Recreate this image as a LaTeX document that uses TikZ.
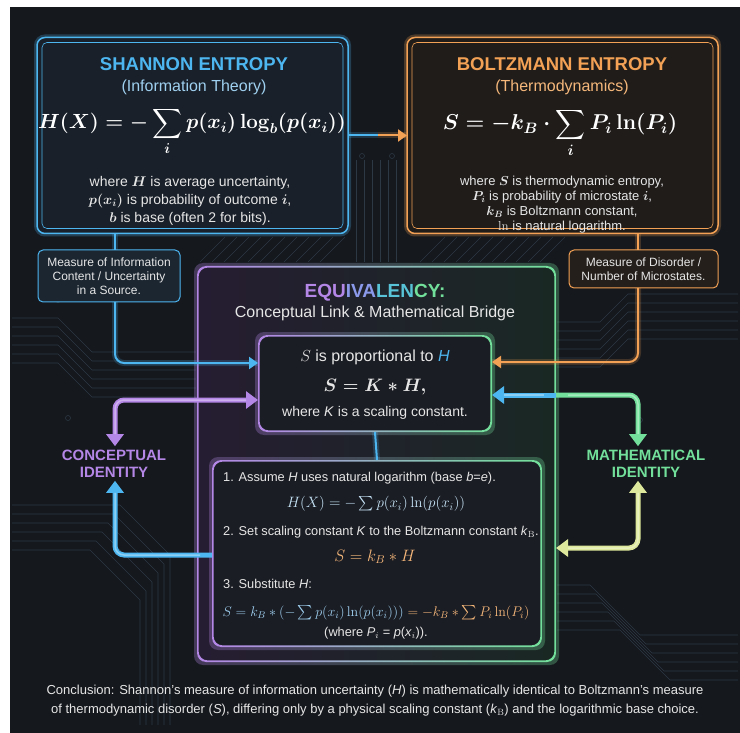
\RequirePackage{fix-cm}
\documentclass[tikz,border=0pt]{standalone}
\usepackage{amsmath}
\usepackage[no-math]{fontspec}
\setmainfont{Liberation Sans}
\usetikzlibrary{arrows.meta, positioning, calc}
\definecolor{cbg}{HTML}{15181D}
\definecolor{cblue}{HTML}{4DB6F0}
\definecolor{clblue}{HTML}{9FD0F0}
\definecolor{corange}{HTML}{F2A155}
\definecolor{clorange}{HTML}{F5B77A}
\definecolor{cpurple}{HTML}{B486E6}
\definecolor{cgreen}{HTML}{72E09A}
\definecolor{cyellow}{HTML}{DDE89C}
\definecolor{ctext}{HTML}{E6E6E6}
\definecolor{ctrace}{HTML}{2C3844}
\definecolor{cshan}{HTML}{192029}
\definecolor{cboltz}{HTML}{1F1C1A}
\definecolor{ctagb}{HTML}{1B2631}
\definecolor{ctago}{HTML}{241F1B}
\definecolor{ceqL}{HTML}{251D31}
\definecolor{ceqR}{HTML}{1A2824}
\definecolor{cinner}{HTML}{1B1D24}
\newcommand{\fs}[2]{\fontsize{#1}{#2}\selectfont}
\tikzset{neon/.style={draw=#1, line width=1.5pt, rounded corners=8pt, outer sep=0pt,
  preaction={draw=#1, line width=6pt, draw opacity=.25}}}
\tikzset{lining/.style={draw=#1, line width=.6pt, rounded corners=5pt}}
\tikzset{tagbox/.style={draw=#1, line width=1pt, rounded corners=5pt, outer sep=0pt,
  align=center, text=ctext, font=\fs{12}{14}}}
\tikzset{title/.style={text=#1, font=\bfseries\fs{18.5}{22}}}
\tikzset{txt/.style={text=ctext, align=center, inner sep=1pt}}
\tikzset{wire/.style={draw=#1, line width=2pt, rounded corners=9pt,
  preaction={draw=#1, line width=6pt, draw opacity=.2, arrows=-}}}
\tikzset{wirehead/.style={-{Triangle[length=9pt,width=12pt]}}}
\tikzset{fat/.style={draw=#1, line width=5pt, rounded corners=9pt,
  postaction={draw=white, draw opacity=.35, line width=1.5pt, arrows=-, shorten <=12pt, shorten >=12pt}}}
\tikzset{ident/.style={text=#1, font=\bfseries\fs{15}{17}, align=center}}
\tikzset{trace/.style={draw=ctrace, line width=.6pt}}
\newcommand{\gradring}[1]{%
  \shade[left color=cpurple, middle color=cblue, right color=cgreen, even odd rule,
    rounded corners=9pt, opacity=.3]
    ([shift={(-3pt,3pt)}]#1.north west) rectangle ([shift={(3pt,-3pt)}]#1.south east)
    (#1.north west) rectangle (#1.south east);
  \shade[left color=cpurple, middle color=cblue, right color=cgreen, even odd rule,
    rounded corners=9pt]
    (#1.north west) rectangle (#1.south east)
    ([shift={(1.6pt,-1.6pt)}]#1.north west) rectangle ([shift={(-1.6pt,1.6pt)}]#1.south east);}

\begin{document}
\begin{tikzpicture}[x=1pt, y=-1pt, >={Triangle[length=12pt,width=17pt]}]
  \useasboundingbox (0,0) rectangle (740,733);
  \fill[white] (0,0) rectangle (740,733);
  \fill[cbg] (10,7) rectangle (740,733);

  % circuit traces
  \foreach \k in {0,...,5}
    \draw[trace] (12,318+9*\k) -- (58,318+9*\k) -- (92,352+9*\k) -- (196,352+9*\k);
  \foreach \k in {0,...,5}
    \draw[trace] (12,505+9*\k) -- (120-6*\k,505+9*\k) -- (170-6*\k,555+9*\k) -- (170-6*\k,725);
  \foreach \k in {0,...,5}
    \draw[trace] (557,322+9*\k) -- (600,322+9*\k) -- (628,294+9*\k) -- (738,294+9*\k);
  \foreach \k in {0,...,5}
    \draw[trace] (557,585+9*\k) -- (590+6*\k,585+9*\k) -- (640+6*\k,635+9*\k) -- (738,635+9*\k);
  \foreach \x in {356,364,...,396}
    \draw[trace] (\x,160) -- (\x,262);
  \foreach \x in {200,212,...,330}
    \draw[trace] (\x,262) -- (\x+25,237);
  \foreach \x in {420,432,...,550}
    \draw[trace] (\x,262) -- (\x+25,237);
  \foreach \p in {(58,300),(68,418),(362,156),(392,156),(602,278),(640,420)}
    \draw[trace] \p circle (2.5pt);

  % Shannon
  \node[neon=cblue, fill=cshan, minimum width=311pt, minimum height=196pt] (shannon) at (192.5,135.5) {};
  \draw[lining=cblue] ([shift={(5pt,-5pt)}]shannon.north west) rectangle ([shift={(-5pt,5pt)}]shannon.south east);
  \node[title=cblue] (shtitle) at (194,64) {SHANNON ENTROPY};
  \node[txt, text=clblue, font=\fs{16}{19}] (shsub) at (194,87) {(Information Theory)};
  \node[txt, text=white, font=\fs{20.5}{24}, anchor=base, inner sep=0pt] (shform) at (192,129)
    {$\displaystyle\boldsymbol{H(X) = -\sum_i p(x_i)\log_b(p(x_i))}$};
  \node[txt, font=\fs{14}{18}] (shwhere) at (190,201)
    {where $\boldsymbol{H}$ is average uncertainty,\\ $\boldsymbol{p(x_i)}$ is probability of outcome $\boldsymbol{i}$,\\ $\boldsymbol{b}$ is base (often 2 for bits).};

  % Boltzmann
  \node[neon=corange, fill=cboltz, minimum width=311pt, minimum height=196pt] (boltz) at (562.5,135.5) {};
  \draw[lining=corange] ([shift={(5pt,-5pt)}]boltz.north west) rectangle ([shift={(-5pt,5pt)}]boltz.south east);
  \node[title=corange] (bztitle) at (562,64) {BOLTZMANN ENTROPY};
  \node[txt, text=clorange, font=\fs{16}{19}] (bzsub) at (562,87) {(Thermodynamics)};
  \node[txt, text=white, font=\fs{21.5}{25}, anchor=base, inner sep=0pt] (bzform) at (560,130)
    {$\displaystyle\boldsymbol{S = -k_B\cdot\sum_i P_i\ln(P_i)}$};
  \node[txt, font=\fs{13}{15}] (bzwhere) at (562,205)
    {where $\boldsymbol{S}$ is thermodynamic entropy,\\ $\boldsymbol{P_i}$ is probability of microstate $\boldsymbol{i}$,\\ $\boldsymbol{k_B}$ is Boltzmann constant,\\ $\ln$ is natural logarithm.};

  % tags
  \node[tagbox=cblue, fill=ctagb, minimum width=142pt, minimum height=52pt] (infobox) at (109,276)
    {Measure of Information\\Content / Uncertainty\\in a Source.};
  \node[tagbox=corange, fill=ctago, minimum width=149pt, minimum height=38pt] (disorder) at (643.5,269)
    {Measure of Disorder /\\Number of Microstates.};

  % Equivalency
  \node[minimum width=359pt, minimum height=396pt, outer sep=0pt] (equiv) at (376.5,464) {};
  \shade[left color=ceqL, right color=ceqR, rounded corners=9pt] (equiv.north west) rectangle (equiv.south east);
  \gradring{equiv}
  \node[txt, font=\bfseries\fs{19}{22}] (eqtitle) at (375,293)
    {\textcolor{cpurple}{EQU}\textcolor{cpurple!60!cblue}{IVA}\textcolor{cblue!70!cgreen}{LEN}\textcolor{cgreen}{CY:}};
  \node[txt, font=\fs{16}{19}] (eqsub) at (375,313) {Conceptual Link \& Mathematical Bridge};

  \node[fill=cinner, rounded corners=7pt, minimum width=234pt, minimum height=97pt, outer sep=0pt] (propbox) at (375,383.5) {};
  \gradring{propbox}
  \node[txt, font=\fs{16}{19}] (prop1) at (375,357) {$S$ is proportional to \textcolor{cblue}{\textit{H}}};
  \node[txt, font=\fs{18}{22}] (prop2) at (375,387) {$\boldsymbol{S = K * H,}$};
  \node[txt, font=\fs{14}{17}] (prop3) at (375,413) {where \textit{K} is a scaling constant.};

  \node[fill=cinner, rounded corners=7pt, minimum width=330pt, minimum height=187pt, outer sep=0pt] (lowbox) at (377,553.5) {};
  \gradring{lowbox}
  \node[txt, font=\fs{12.8}{15}, anchor=west] (step1) at (222,478)
    {1. Assume \textit{H} uses natural logarithm (base \textit{b}=\textit{e}).};
  \node[txt, text=clblue!60!white, font=\fs{15}{18}] (form1) at (376,504)
    {$H(X) = -\sum p(x_i)\ln(p(x_i))$};
  \node[txt, font=\fs{12.8}{15}, anchor=west] (step2) at (222,532)
    {2. Set scaling constant \textit{K} to the Boltzmann constant \textit{k}$_\mathrm{B}$.};
  \node[txt, text=clorange, font=\fs{16.5}{19}] (form2) at (375,557) {$S = k_B * H$};
  \node[txt, font=\fs{12.8}{15}, anchor=west] (step3) at (222,584) {3. Substitute \textit{H}:};
  \node[txt, font=\fs{14}{17}, inner sep=0pt] (form3) at (376,613)
    {\textcolor{clblue}{$S = k_B*(-\sum p(x_i)\ln(p(x_i)))$}\textcolor{clorange}{$\;= -k_B*\sum P_i\ln(P_i)$}};
  \node[txt, font=\fs{12.8}{15}] (step3b) at (376,633)
    {(where \textit{P}$_i$ = \textit{p}(\textit{x}$_i$)).};

  % identities
  \node[ident=cpurple] (concept) at (114,463.5) {CONCEPTUAL\\IDENTITY};
  \node[ident=cgreen] (mathid) at (646,463.5) {MATHEMATICAL\\IDENTITY};

  % connectors
  \coordinate (lcol) at (115,0);
  \coordinate (rcol) at (638,0);
  \draw[wire=cblue] (shannon.east) -- ($(shannon.east)!.5!(boltz.west)$) coordinate (topmid);
  \draw[wire=corange, wirehead] (topmid) -- (boltz.west);
  \draw[wire=cblue] (shannon.south -| lcol) -- (infobox.north -| lcol);
  \draw[wire=cblue, wirehead] (infobox.south -| lcol) |- ([yshift=20.5pt]propbox.west);
  \draw[wire=corange] (boltz.south -| rcol) -- (disorder.north -| rcol);
  \draw[wire=corange, wirehead] (disorder.south -| rcol) |- ([yshift=21.5pt]propbox.east);
  \draw[wire=cblue] (propbox.south) -- (lowbox.north);

  \draw[fat=cpurple, <->] (concept.north -| lcol) |- ([yshift=-16.5pt]propbox.west);
  \draw[fat=cblue, ->] ([yshift=-1.5pt]lowbox.west) -| (concept.south -| lcol);
  \coordinate (mfork) at ([yshift=-11.5pt]propbox.east -| equiv.east);
  \draw[fat=cgreen, ->] (mfork) -| (mathid.north -| rcol);
  \draw[fat=cblue, ->] (mfork) -- ([yshift=-11.5pt]propbox.east);
  \draw[fat=cyellow, <->] (mathid.south -| rcol) |- ([yshift=-84pt]equiv.east);

  % conclusion
  \node[txt, font=\fs{13}{19}] (concl) at (375,701)
    {Conclusion: Shannon’s measure of information uncertainty (\textit{H}) is mathematically identical to Boltzmann’s measure\\
     of thermodynamic disorder (\textit{S}), differing only by a physical scaling constant (\textit{k}$_\mathrm{B}$) and the logarithmic base choice.};
\end{tikzpicture}
\end{document}
